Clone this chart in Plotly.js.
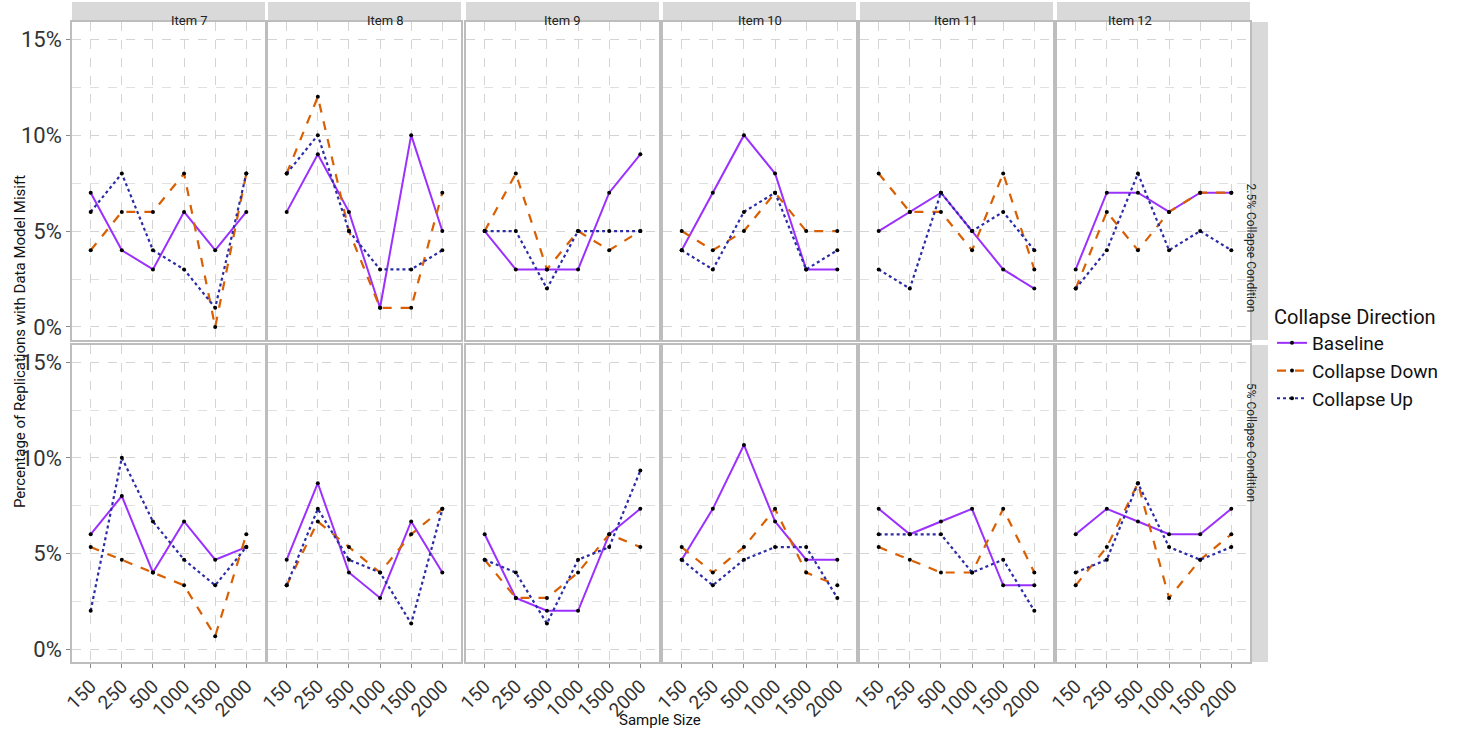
<!DOCTYPE html>
<html>
<head>
<meta charset="utf-8">
<script src="https://cdn.plot.ly/plotly-3.0.1.min.js"></script>
<style>body{margin:0;background:#fff}</style>
</head>
<body>
<div id="plot1" style="width:1476px;height:739px"></div>
<script>
// data (percent)
var sampleSizes = ['150', '250', '500', '1000', '1500', '2000'];
var items = ['Item 7', 'Item 8', 'Item 9', 'Item 10', 'Item 11', 'Item 12'];
var conditions = ['2.5% Collapse Condition', '5% Collapse Condition'];

// 2.5% collapse condition
var base25 = [[7,4,3,6,4,6],[6,9,6,1,10,5],[5,3,3,3,7,9],[4,7,10,8,3,3],[5,6,7,5,3,2],[3,7,7,6,7,7]];
var down25 = [[4,6,6,8,0,8],[8,12,5,1,1,7],[5,8,3,5,4,5],[5,4,5,7,5,5],[8,6,6,4,8,3],[2,6,4,6,7,7]];
var up25   = [[6,8,4,3,1,8],[8,10,5,3,3,4],[5,5,2,5,5,5],[4,3,6,7,3,4],[3,2,7,5,6,4],[2,4,8,4,5,4]];

// 5% collapse condition
var base5 = [[6,8,4,6.67,4.67,5.33],[4.67,8.67,4,2.67,6.67,4],[6,2.67,2,2,6,7.33],[4.67,7.33,10.67,6.67,4.67,4.67],[7.33,6,6.67,7.33,3.33,3.33],[6,7.33,6.67,6,6,7.33]];
var down5 = [[5.33,4.67,4,3.33,0.67,6],[3.33,6.67,5.33,4,6,7.33],[4.67,2.67,2.67,4,6,5.33],[5.33,4,5.33,7.33,4,3.33],[5.33,4.67,4,4,7.33,4],[3.33,5.33,8.67,2.67,4.67,6]];
var up5   = [[2,10,6.67,4.67,3.33,5.33],[3.33,7.33,4.67,4,1.33,7.33],[4.67,4,1.33,4.67,5.33,9.33],[4.67,3.33,4.67,5.33,5.33,2.67],[6,6,6,4,4.67,2],[4,4.67,8.67,5.33,4.67,5.33]];

var W = 1476, H = 739;
var colX = [72, 268, 466, 663, 860, 1057], panelW = 193;
var rowY = [[22, 340], [345, 662]];
var series = [
  {name: 'Baseline', color: '#9b30ff', dash: 'solid', data: [base25, base5]},
  {name: 'Collapse Down', color: '#d95f02', dash: 'dash', data: [down25, down5]},
  {name: 'Collapse Up', color: '#2c2ca8', dash: 'dot', data: [up25, up5]}
];

var traces = [];
var layout = {
  width: W, height: H, margin: {l: 0, r: 0, t: 0, b: 0},
  paper_bgcolor: '#fff', plot_bgcolor: '#fff',
  font: {family: 'Roboto, Arial, sans-serif', color: '#333'},
  showlegend: true,
  legend: {x: 1272 / W, y: 1 - 298 / H, xanchor: 'left', yanchor: 'top',
           title: {text: 'Collapse Direction', font: {size: 20, color: '#111'}},
           font: {size: 19, color: '#111'}, tracegroupgap: 0, itemwidth: 30},
  shapes: [], annotations: []
};

for (var r = 0; r < 2; r++) {
  for (var c = 0; c < 6; c++) {
    var k = r * 6 + c + 1;
    var xa = 'x' + (k === 1 ? '' : k), ya = 'y' + (k === 1 ? '' : k);
    series.forEach(function (s, si) {
      traces.push({
        x: sampleSizes, y: s.data[r][c], xaxis: xa, yaxis: ya,
        type: 'scatter', mode: 'lines+markers', name: s.name,
        legendgroup: s.name, showlegend: k === 1,
        line: {color: s.color, dash: s.dash, width: si === 0 ? 2 : 2.2},
        marker: {color: '#000', size: 4}
      });
    });
    var x0 = colX[c] / W, x1 = (colX[c] + panelW) / W;
    var y0 = 1 - rowY[r][1] / H, y1 = 1 - rowY[r][0] / H;
    layout['xaxis' + (k === 1 ? '' : k)] = {
      domain: [x0, x1], anchor: ya, type: 'category', range: [-0.6, 5.6],
      showgrid: true, gridcolor: '#d4d4d4', griddash: 'dash', gridwidth: 1,
      showline: true, mirror: true, linecolor: '#bdbdbd', linewidth: 1.5,
      zeroline: false, showticklabels: r === 1,
      ticks: r === 1 ? 'outside' : '', ticklen: 4, tickcolor: '#888',
      tickangle: -45, tickfont: {size: 19, color: '#333'}
    };
    layout['yaxis' + (k === 1 ? '' : k)] = {
      domain: [y0, y1], anchor: xa, range: [-0.68, 15.9],
      tickvals: [0, 5, 10, 15], ticktext: ['0%', '5%', '10%', '15%'],
      showgrid: true, gridcolor: '#d4d4d4', griddash: 'dash', gridwidth: 1,
      minor: {dtick: 2.5, tick0: 0, showgrid: true, gridcolor: '#e0e0e0', griddash: 'dash'},
      showline: true, mirror: true, linecolor: '#bdbdbd', linewidth: 1.5,
      zeroline: false, showticklabels: c === 0,
      ticks: c === 0 ? 'outside' : '', ticklen: 4, tickcolor: '#888',
      tickfont: {size: 22, color: '#333'}
    };
    if (r === 0) {
      layout.shapes.push({type: 'rect', xref: 'paper', yref: 'paper', x0: x0, x1: x1,
        y0: 1 - 20 / H, y1: 1 - 2 / H, fillcolor: '#d9d9d9', line: {width: 0}});
      layout.annotations.push({xref: 'paper', yref: 'paper', x: (x0 + x1) / 2, y: 1 - 11 / H,
        text: items[c], showarrow: false, font: {size: 13, color: '#222'}});
    }
  }
  var sy0 = 1 - rowY[r][1] / H, sy1 = 1 - rowY[r][0] / H;
  layout.shapes.push({type: 'rect', xref: 'paper', yref: 'paper', x0: 1252 / W, x1: 1268 / W,
    y0: sy0, y1: sy1, fillcolor: '#d9d9d9', line: {width: 0}});
  layout.annotations.push({xref: 'paper', yref: 'paper', x: 1260 / W, y: (sy0 + sy1) / 2,
    text: conditions[r], textangle: 90, showarrow: false, font: {size: 12, color: '#222'}});
}

layout.annotations.push({xref: 'paper', yref: 'paper', x: 660 / W, y: 1 - 731 / H,
  text: 'Sample Size', showarrow: false, font: {size: 15, color: '#111'}});
layout.annotations.push({xref: 'paper', yref: 'paper', x: 9 / W, y: 1 - 342 / H,
  text: 'Percentage of Replications with Data Model Misift', textangle: -90,
  showarrow: false, font: {size: 15, color: '#111'}});

Plotly.newPlot('plot1', traces, layout, {displayModeBar: false});
</script>
</body>
</html>
